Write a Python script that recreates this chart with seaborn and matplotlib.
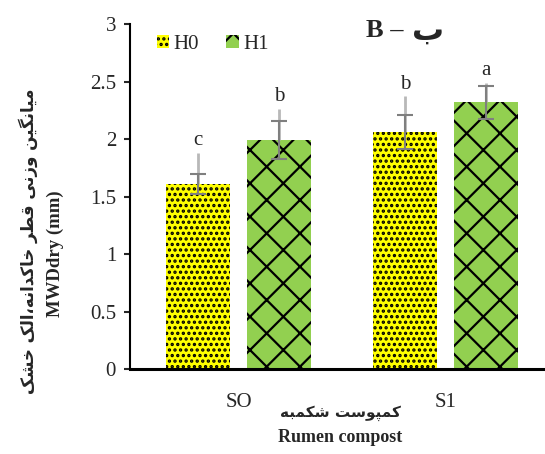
import numpy as np
import pandas as pd
import matplotlib
matplotlib.use("Agg")
import matplotlib.pyplot as plt
import seaborn as sns

# data
categories = ["SO", "S1"]
groups = ["H0", "H1"]
mean_h0 = [1.61, 2.06]
mean_h1 = [1.99, 2.32]
err_h0 = [0.09, 0.15]
err_h1 = [0.165, 0.145]
whisker_h0 = [1.88, 2.37]   # light grey upper line
whisker_h1 = [2.26, 2.49]
letters_h0 = ["c", "b"]
letters_h1 = ["b", "a"]

ylabel_fa = "میانگین وزنی قطر خاکدانه،الک خشک"
ylabel_en = "MWDdry (mm)"
xlabel_fa = "کمپوست شکمبه"
xlabel_en = "Rumen compost"
title_en = "B –"
title_fa = "ب"

# matplotlib has no arabic shaping, so pick presentation forms by hand
FORMS = {
    "ا": (0xFE8D, 0xFE8E), "د": (0xFEA9, 0xFEAA), "ر": (0xFEAD, 0xFEAE),
    "ز": (0xFEAF, 0xFEB0), "و": (0xFEED, 0xFEEE),
    "ب": (0xFE8F, 0xFE90, 0xFE91, 0xFE92), "پ": (0xFB56, 0xFB57, 0xFB58, 0xFB59),
    "ت": (0xFE95, 0xFE96, 0xFE97, 0xFE98), "خ": (0xFEA5, 0xFEA6, 0xFEA7, 0xFEA8),
    "س": (0xFEB1, 0xFEB2, 0xFEB3, 0xFEB4), "ش": (0xFEB5, 0xFEB6, 0xFEB7, 0xFEB8),
    "ط": (0xFEC1, 0xFEC2, 0xFEC3, 0xFEC4), "ق": (0xFED5, 0xFED6, 0xFED7, 0xFED8),
    "ل": (0xFEDD, 0xFEDE, 0xFEDF, 0xFEE0), "م": (0xFEE1, 0xFEE2, 0xFEE3, 0xFEE4),
    "ن": (0xFEE5, 0xFEE6, 0xFEE7, 0xFEE8), "ه": (0xFEE9, 0xFEEA, 0xFEEB, 0xFEEC),
    "ک": (0xFB8E, 0xFB8F, 0xFB90, 0xFB91), "گ": (0xFB92, 0xFB93, 0xFB94, 0xFB95),
    "ی": (0xFBFC, 0xFBFD, 0xFBFE, 0xFBFF),
}


def shape(text):
    out = []
    for i, ch in enumerate(text):
        if ch not in FORMS:
            out.append(ch)
            continue
        prev = text[i - 1] if i > 0 else ""
        nxt = text[i + 1] if i < len(text) - 1 else ""
        f = FORMS[ch]
        jp = prev in FORMS and len(FORMS[prev]) == 4
        jn = len(f) == 4 and nxt in FORMS
        if jp and jn:
            g = f[3]
        elif jp:
            g = f[1]
        elif jn:
            g = f[2]
        else:
            g = f[0]
        out.append(chr(g))
    return "".join(reversed(out))


df = pd.DataFrame({
    "cat": categories * 2,
    "grp": [groups[0]] * 2 + [groups[1]] * 2,
    "val": mean_h0 + mean_h1,
})

sns.set_style("white")
plt.rcParams["font.family"] = ["Liberation Serif", "DejaVu Sans"]
plt.rcParams["hatch.linewidth"] = 1.6

fig = plt.figure(figsize=(5.45, 4.54), dpi=100)
ax = fig.add_axes([0.2385, 0.1872, 0.7615, 0.7599])

sns.barplot(data=df, x="cat", y="val", hue="grp", order=categories,
            hue_order=groups, palette=["#FFFF00", "#92D050"],
            width=0.78, gap=0.21, errorbar=None, saturation=1, ax=ax)

hatches = ["...", "x"]
means = [mean_h0, mean_h1]
errs = [err_h0, err_h1]
whisk = [whisker_h0, whisker_h1]
letters = [letters_h0, letters_h1]
bars = list(ax.containers)
for k, cont in enumerate(bars):
    xs = []
    for p in cont:
        p.set_hatch(hatches[k])
        p.set_edgecolor("black")
        p.set_linewidth(0)
        xs.append(p.get_x() + p.get_width() / 2)
    xs = np.array(xs)
    m = np.array(means[k])
    up = np.array(whisk[k]) - m
    ax.errorbar(xs, m, yerr=[np.zeros_like(up), up], fmt="none",
                ecolor="#b8b8b8", elinewidth=2, capsize=0, zorder=3)
    ax.errorbar(xs, m, yerr=errs[k], fmt="none", ecolor="#7f7f7f",
                elinewidth=1.5, capsize=6, capthick=1.5, zorder=4)
    for x, w, t in zip(xs, whisk[k], letters[k]):
        ax.text(x, w + 0.025, t, ha="center", va="bottom", fontsize=15)

ax.set_ylim(0, 3)
ax.set_xlim(-0.524, 1.48)
ax.set_yticks(np.arange(0, 3.01, 0.5))
ax.set_yticklabels(["0", "0.5", "1", "1.5", "2", "2.5", "3"])
ax.tick_params(axis="y", left=True, length=4, width=1.5, labelsize=15, pad=6)
ax.tick_params(axis="x", bottom=False, labelsize=15, pad=14)
for s in ["top", "right"]:
    ax.spines[s].set_visible(False)
ax.spines["left"].set_linewidth(1.5)
ax.spines["bottom"].set_linewidth(2.2)
ax.spines["left"].set_color("black")
ax.spines["bottom"].set_color("black")
ax.set_xlabel("")
ax.set_ylabel("")

handles = [bars[0][0], bars[1][0]]
ax.legend(handles, groups, loc="center left", bbox_to_anchor=(0.065, 0.942),
          ncol=2, frameon=False, fontsize=15, handlelength=0.6,
          handleheight=0.6, handletextpad=0.2, columnspacing=1.3,
          borderpad=0, borderaxespad=0)

fig.text(403 / 545, 1 - 37 / 454, title_en, ha="right", va="baseline",
         fontsize=19, fontweight="bold")
fig.text(412 / 545, 1 - 40 / 454, shape(title_fa), ha="left",
         va="baseline", fontsize=23, fontweight="bold",
         family=["DejaVu Sans"])

fig.text(28 / 545, 1 - 241 / 454, shape(ylabel_fa), rotation=90,
         ha="center", va="center", fontsize=12, fontweight="bold",
         family=["DejaVu Sans"])
fig.text(55 / 545, 1 - 254 / 454, ylabel_en, rotation=90, ha="center",
         va="center", fontsize=13.5, fontweight="bold")
fig.text(340 / 545, 1 - 413 / 454, shape(xlabel_fa), ha="center",
         va="center", fontsize=11, fontweight="bold", family=["DejaVu Sans"])
fig.text(340 / 545, 1 - 437 / 454, xlabel_en, ha="center", va="center",
         fontsize=13, fontweight="bold")

fig.savefig("out.png", dpi=100)
